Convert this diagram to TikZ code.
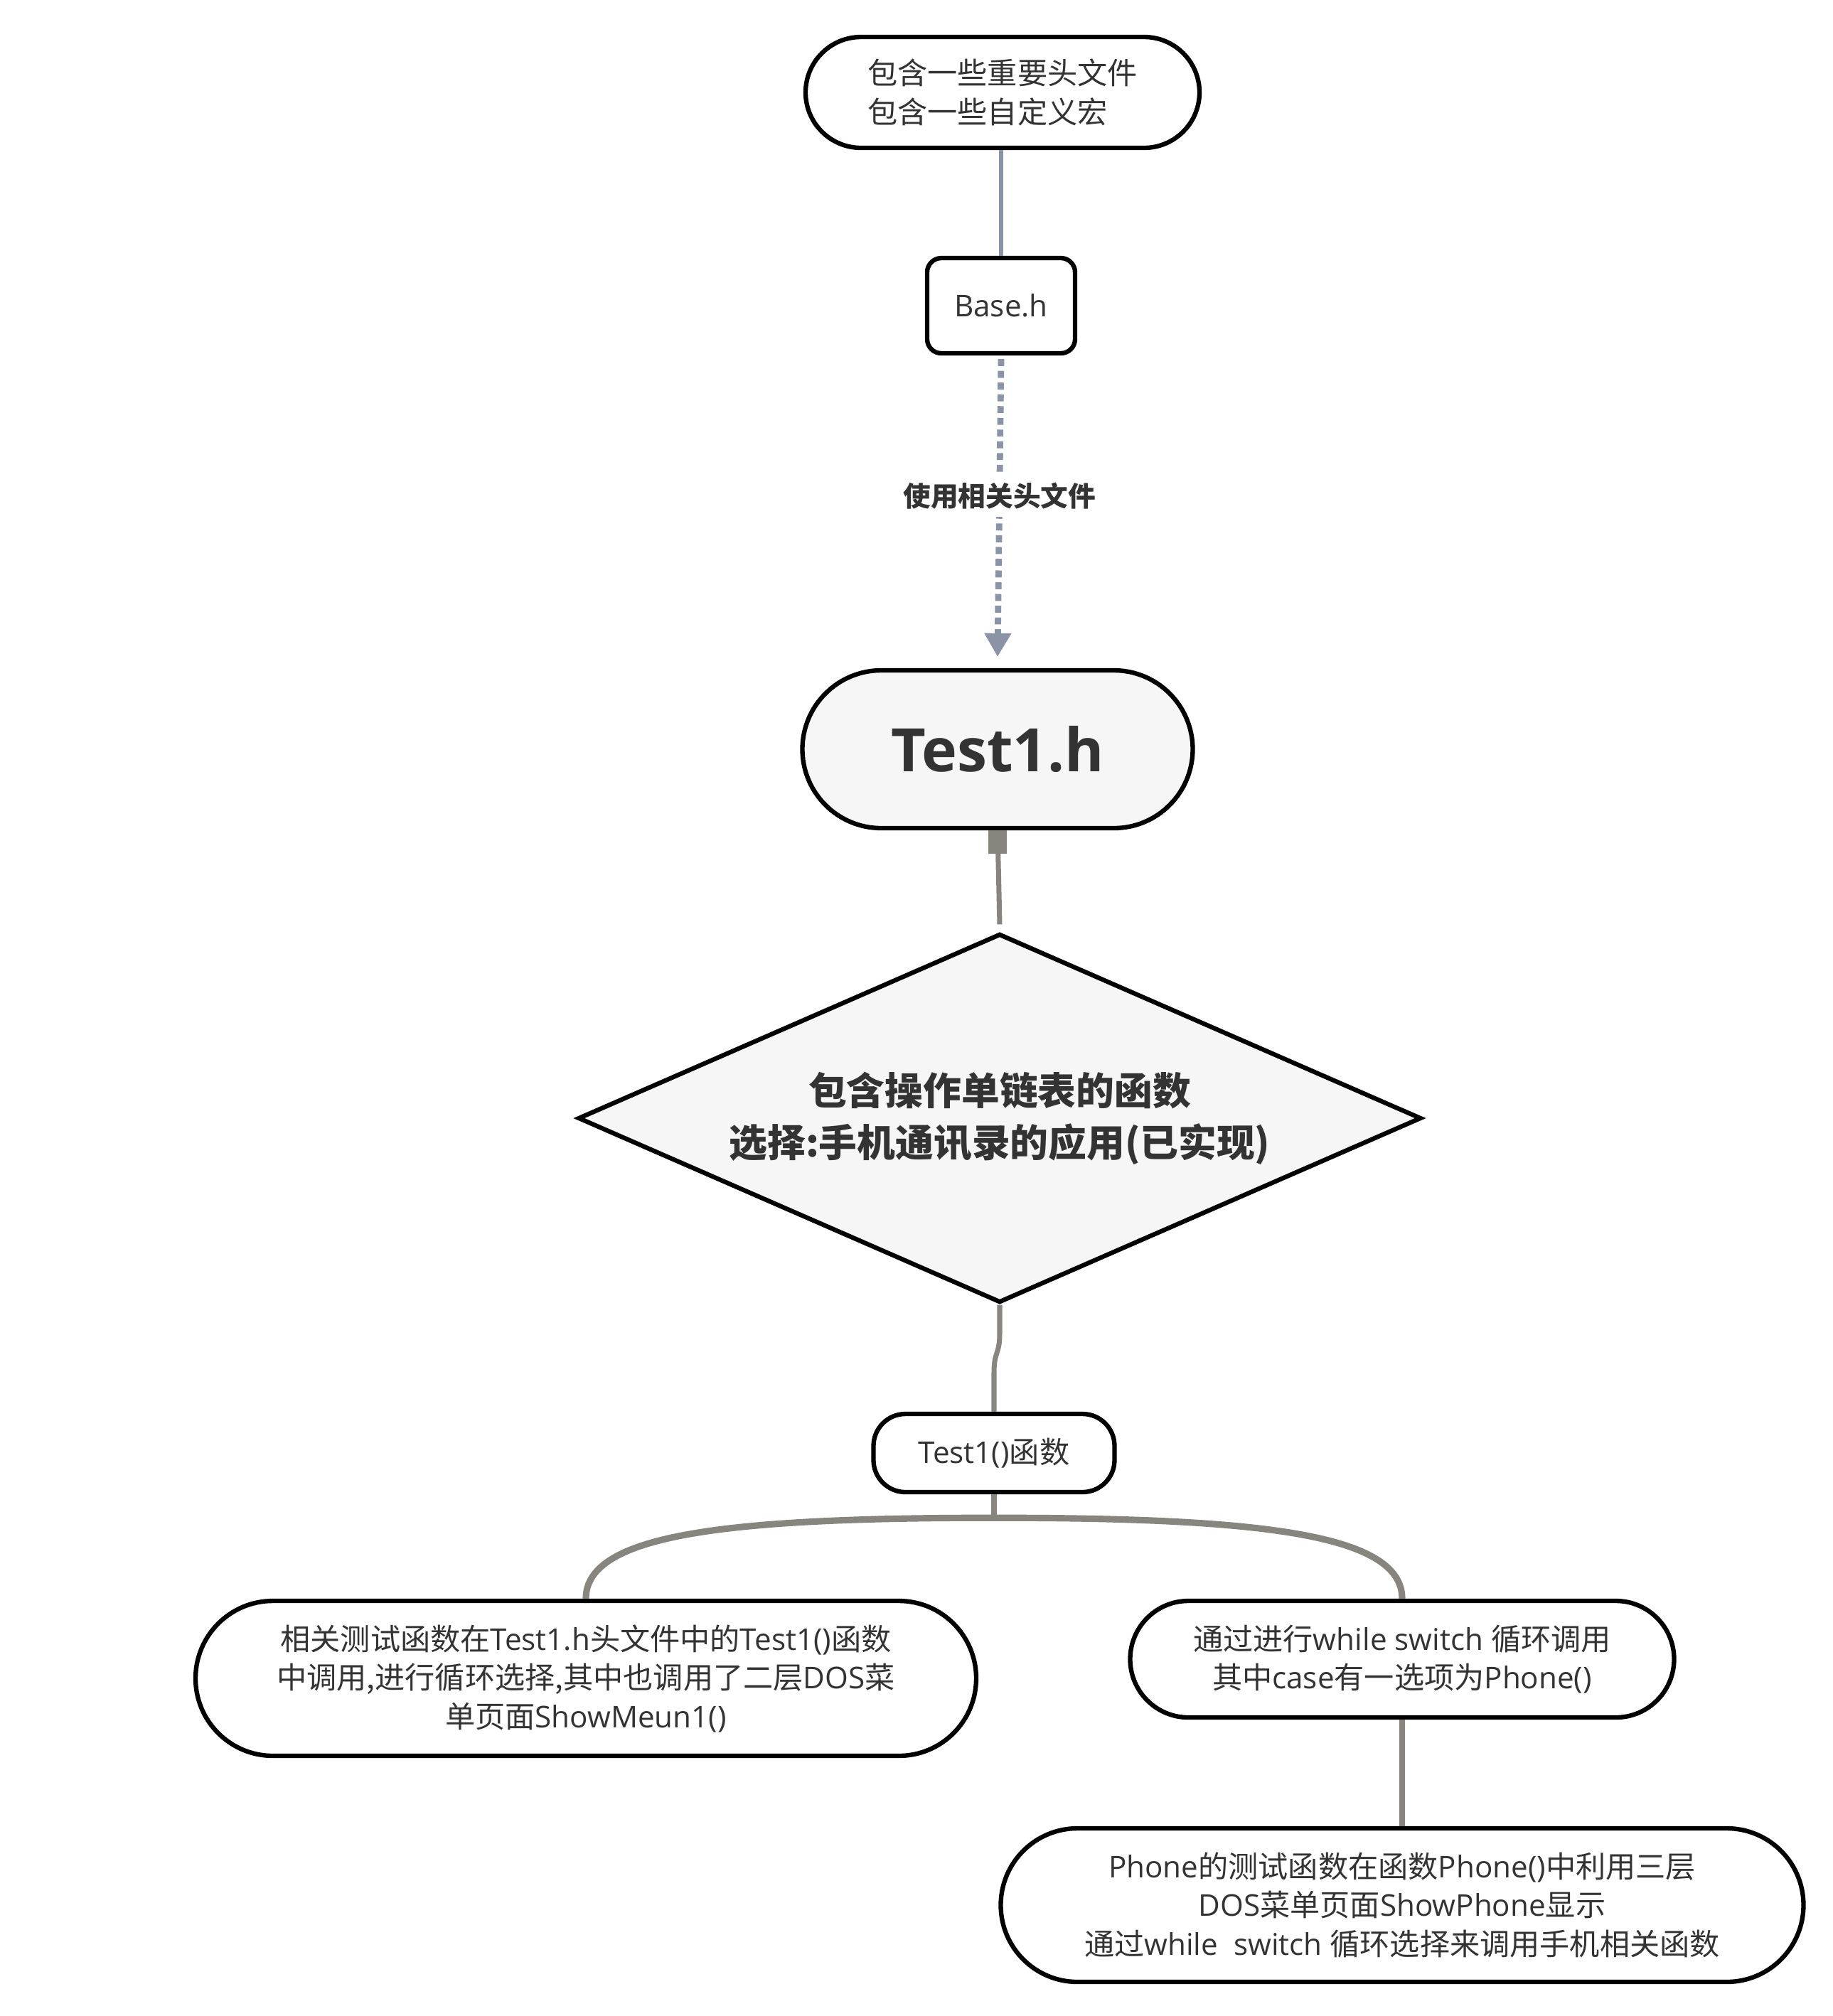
\documentclass[tikz,border=0pt]{standalone}
\usepackage{fontspec}
\usepackage{tikz}
\usetikzlibrary{shapes.geometric,arrows.meta}
\setmainfont{Noto Sans CJK SC}
\newfontfamily\en{Open Sans}
\newcommand{\lat}[1]{{\en #1}}
\definecolor{txt}{HTML}{333333}
\definecolor{boxfill}{HTML}{F6F6F6}
\definecolor{bluegray}{HTML}{8A94A6}
\definecolor{linkgray}{HTML}{88857F}

\begin{document}
\begin{tikzpicture}[
    box/.style={draw=black, line width=1.8pt, fill=white, text=txt, align=center, inner sep=0pt,
        font=\fontsize{12}{15.5}\selectfont},
    lnk/.style={draw=linkgray, line width=2pt},
    ref/.style={draw=bluegray, line width=1.8pt}
]
    \useasboundingbox (0,0) rectangle (25.78,-28.36);

    % Define the nodes
    \node[box, align=left, rounded corners=7.8mm, minimum width=5.54cm, minimum height=1.56cm] (head) at (14.10,-1.30) {包含一些重要头文件\\包含一些自定义宏};
    \node[box, rounded corners=2mm, minimum width=2.08cm, minimum height=1.34cm] (base) at (14.08,-4.30) {\lat{Base.h}};
    \node[box, fill=boxfill, rounded corners=11.1mm, minimum width=5.49cm, minimum height=2.22cm, font=\en\bfseries\fontsize{24}{28}\selectfont] (test1h) at (14.03,-10.54) {Test1.h};
    \node[box, diamond, fill=boxfill, shape aspect=2.3, minimum width=11.86cm, minimum height=5.19cm, font=\bfseries\fontsize{15.3}{20.8}\selectfont] (dia) at (14.06,-15.73) {包含操作单链表的函数\\选择:手机通讯录的应用(已实现)};
    \node[box, rounded corners=4.5mm, minimum width=3.39cm, minimum height=1.10cm] (fn) at (13.98,-20.44) {\lat{Test1()}函数};
    \node[box, rounded corners=10.9mm, minimum width=10.98cm, minimum height=2.18cm] (lc) at (8.24,-23.61) {相关测试函数在\lat{Test1.h}头文件中的\lat{Test1()}函数\\中调用,进行循环选择,其中也调用了二层\lat{DOS}菜\\单页面\lat{ShowMeun1()}};
    \node[box, rounded corners=8.2mm, minimum width=7.65cm, minimum height=1.64cm] (rc) at (19.72,-23.34) {通过进行\lat{while switch }循环调用\\其中\lat{case}有一选项为\lat{Phone()}};
    \node[box, rounded corners=10.8mm, minimum width=11.29cm, minimum height=2.16cm] (bc) at (19.72,-26.80) {\lat{Phone}的测试函数在函数\lat{Phone()}中利用三层\\\lat{DOS}菜单页面\lat{ShowPhone}显示\\通过\lat{while\ \ switch }循环选择来调用手机相关函数};

    % Header and Base.h
    \draw[ref] (base.north |- head.south) -- (base.north);

    % Dotted arrow to Test1.h
    \draw[ref, line width=2.5pt, dash pattern=on 2.8pt off 1.9pt, -{Triangle[width=3.6mm,length=3.3mm]}]
        ([yshift=-0.5mm]base.south) -- node[pos=0.46, fill=white, text=txt, inner sep=1mm, font=\bfseries\fontsize{11}{13}\selectfont] {使用相关头文件} ([yshift=1.6mm]test1h.north);

    % Test1.h to the diamond
    \fill[linkgray] ([xshift=-1.3mm]test1h.south) rectangle ([xshift=1.3mm,yshift=-3.3mm]test1h.south);
    \draw[lnk] (test1h.south) -- ([yshift=1mm]dia.north);

    % Diamond to Test1()
    \coordinate (bend) at ([yshift=5.5mm]fn.north);
    \draw[lnk] (dia.south) -- ++(0,-0.4) .. controls +(0,-0.3) and +(0,0.3) .. (bend) -- (fn.north);

    % Fork to the two branches
    \coordinate (fork) at ([yshift=-3.3mm]fn.south);
    \draw[lnk] (fn.south) -- (fork);
    \draw[lnk, line width=2.6pt] (lc.north) .. controls +(0,0.9) and +(-3.8,0) .. (fork) .. controls +(3.8,0) and +(0,0.9) .. (rc.north);

    % Right branch down
    \draw[lnk] (rc.south) -- (bc.north);
\end{tikzpicture}
\end{document}
